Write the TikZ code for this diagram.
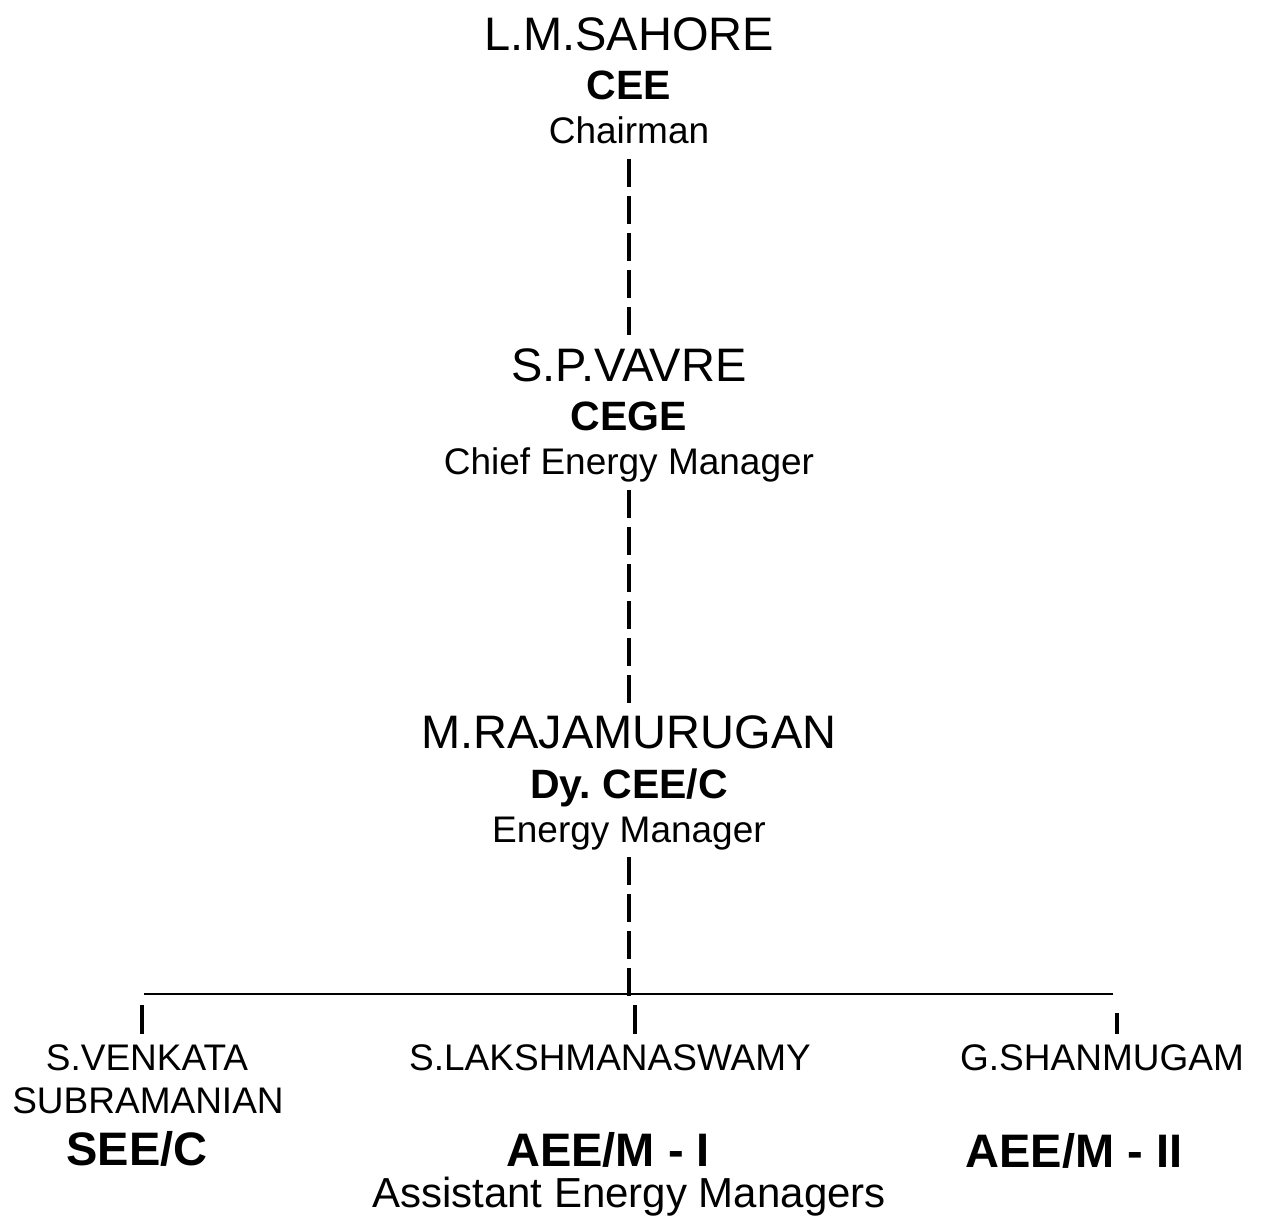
\documentclass[tikz,border=0pt]{standalone}
\usepackage{fontspec}
\setmainfont{Liberation Sans}
\frenchspacing

\begin{document}
\begin{tikzpicture}[x=0.5pt,y=-0.5pt]
	\tikzstyle{person}=[anchor=base,inner sep=0pt,font=\fontsize{23.5}{28}\selectfont]
	\tikzstyle{rank}=[anchor=base,inner sep=0pt,font=\bfseries\fontsize{20.5}{24}\selectfont]
	\tikzstyle{role}=[anchor=base,inner sep=0pt,font=\fontsize{18.5}{22}\selectfont]
	\tikzstyle{subrank}=[anchor=base,inner sep=0pt,font=\bfseries\fontsize{23.5}{28}\selectfont]
	\tikzstyle{dashline}=[line width=1.8pt,dash pattern=on 14pt off 4.5pt]
	\tikzstyle{stub}=[line width=1.6pt]
	\useasboundingbox (0,0) rectangle (1264,1225);
	\node[person] (sahore) at (629,51) {L.M.SAHORE};
	\node[rank] (cee) at (629,100) {CEE};
	\node[role] (chairman) at (629,144) {Chairman};
	\node[person] (vavre) at (629,381) {S.P.VAVRE};
	\node[rank] (cege) at (629,430) {CEGE};
	\node[role] (chiefem) at (629,474) {Chief Energy Manager};
	\node[person] (raja) at (629,748) {M.RAJAMURUGAN};
	\node[rank] (dycee) at (629,798) {Dy. CEE/C};
	\node[role] (em) at (629,842) {Energy Manager};
	\node[role] (venkata) at (147,1070) {S.VENKATA};
	\node[role] (subram) at (148,1113) {SUBRAMANIAN};
	\node[subrank] (seec) at (137,1165) {SEE/C};
	\node[role] (laksh) at (610,1070) {S.LAKSHMANASWAMY};
	\node[subrank] (aeeone) at (608,1166) {AEE/M - I};
	\node[role] (shan) at (1102,1070) {G.SHANMUGAM};
	\node[subrank] (aeetwo) at (1074,1167) {AEE/M - II};
	\node[anchor=base,inner sep=0pt,font=\fontsize{21}{25}\selectfont] (asst) at (629,1207) {Assistant Energy Managers};
	\coordinate (j) at (629,997);
	\coordinate (hl) at (144,994);
	\coordinate (hr) at (1113,994);
	\coordinate (s1) at (142,1005);
	\coordinate (s2) at (635,1005);
	\coordinate (s3) at (1117,1013);
	\draw[dashline,shorten <=7.5pt,shorten >=23pt] (chairman.base) -- (vavre.base);
	\draw[dashline,shorten <=8pt,shorten >=22.5pt] (chiefem.base) -- (raja.base);
	\draw[dashline,shorten <=7.5pt] (em.base) -- (j);
	\draw[line width=1pt] (hl) -- (hr);
	\foreach \s/\n in {s1/venkata,s2/laksh,s3/shan}
		\draw[stub,shorten >=18pt] (\s) -- (\s |- \n.base);
\end{tikzpicture}
\end{document}
